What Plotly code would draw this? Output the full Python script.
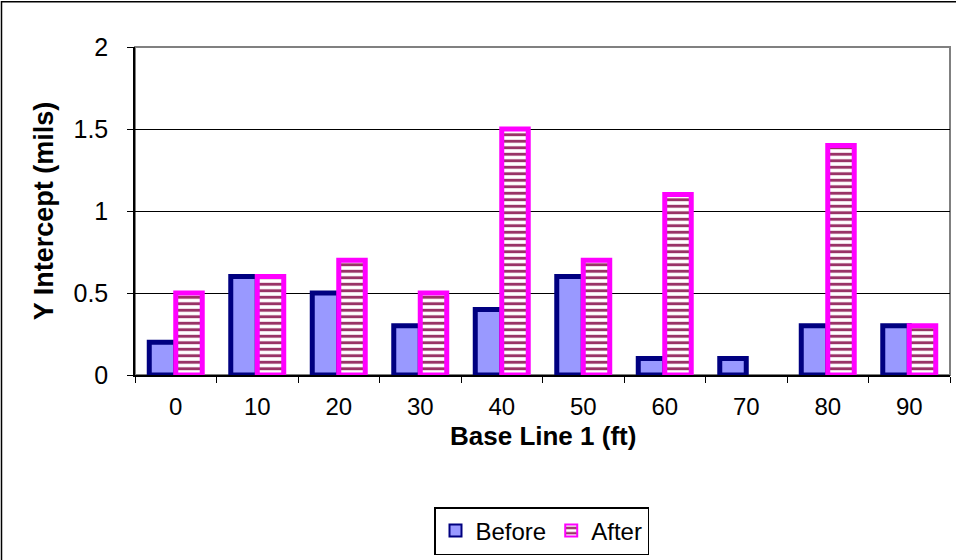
import plotly.graph_objects as go

categories = ["0", "10", "20", "30", "40", "50", "60", "70", "80", "90"]
before = [0.2, 0.6, 0.5, 0.3, 0.4, 0.6, 0.1, 0.1, 0.3, 0.3]
after = [0.5, 0.6, 0.7, 0.5, 1.5, 0.7, 1.1, None, 1.4, 0.3]
y_ticks = [0, 0.5, 1, 1.5, 2]
y_tick_labels = ["0", "0.5", "1", "1.5", "2"]
x_title = "Base Line 1 (ft)"
y_title = "Y Intercept (mils)"

FONT = "Liberation Sans, Arial, sans-serif"

fig = go.Figure()
fig.add_trace(go.Bar(
    x=categories, y=before, name="Before",
    marker=dict(color="#9999FF", line=dict(color="#000080", width=5)),
))
fig.add_trace(go.Bar(
    x=categories, y=after, name="After",
    marker=dict(color="white", line=dict(color="#FF00FF", width=5),
                pattern=dict(shape="-", fgcolor="#993366", bgcolor="white",
                             size=6.5, solidity=0.45, fillmode="replace")),
))

L, R, T, B = 135, 6, 47, 184
W, H = 956, 560
pw = W - L - R
ph = H - T - B

fig.update_layout(
    width=W, height=H,
    margin=dict(l=L, r=R, t=T, b=B),
    paper_bgcolor="white", plot_bgcolor="white",
    barmode="group", bargap=0.35, bargroupgap=0,
    font=dict(family=FONT, size=24, color="black"),
    showlegend=True,
    legend=dict(orientation="h", x=(434 - L) / pw, xanchor="left",
                y=-(507 - T - ph) / ph, yanchor="top",
                bordercolor="black", borderwidth=1.5, bgcolor="white",
                font=dict(size=24), itemsizing="constant",
                tracegroupgap=0, itemwidth=30),
    xaxis=dict(
        type="category", tickson="boundaries", ticks="outside", ticklen=6,
        tickcolor="black", showline=True, linecolor="black", linewidth=1.5,
        showgrid=False, ticklabelstandoff=9,
        tickfont=dict(size=24),
    ),
    yaxis=dict(
        range=[0, 2], tickvals=y_ticks, ticktext=y_tick_labels,
        ticks="outside", ticklen=6, tickcolor="black",
        showline=True, linecolor="black", linewidth=1.5,
        showgrid=True, gridcolor="black", gridwidth=1,
        zeroline=False, ticklabelstandoff=14,
        title=dict(text="<b>" + y_title + "</b>", font=dict(size=27), standoff=12),
        tickfont=dict(size=25),
    ),
)

# x-axis title placed just below the tick labels
fig.add_annotation(text="<b>" + x_title + "</b>", xref="paper", yref="paper",
                   x=0.5, y=-(437 - T - ph) / ph, xanchor="center", yanchor="middle",
                   showarrow=False, font=dict(size=26))

# plot area border (gray) and outer chart frame
fig.add_shape(type="rect", xref="paper", yref="paper", x0=0, y0=0, x1=1, y1=1,
              line=dict(color="#808080", width=2), layer="below")
fig.add_shape(type="rect", xref="paper", yref="paper",
              x0=-(L - 1.5) / pw, y0=-(B + 10) / ph, x1=(W - L + 10) / pw, y1=1 + (T - 1.5) / ph,
              line=dict(color="black", width=1.5), layer="below")

fig.write_html("out.html")
